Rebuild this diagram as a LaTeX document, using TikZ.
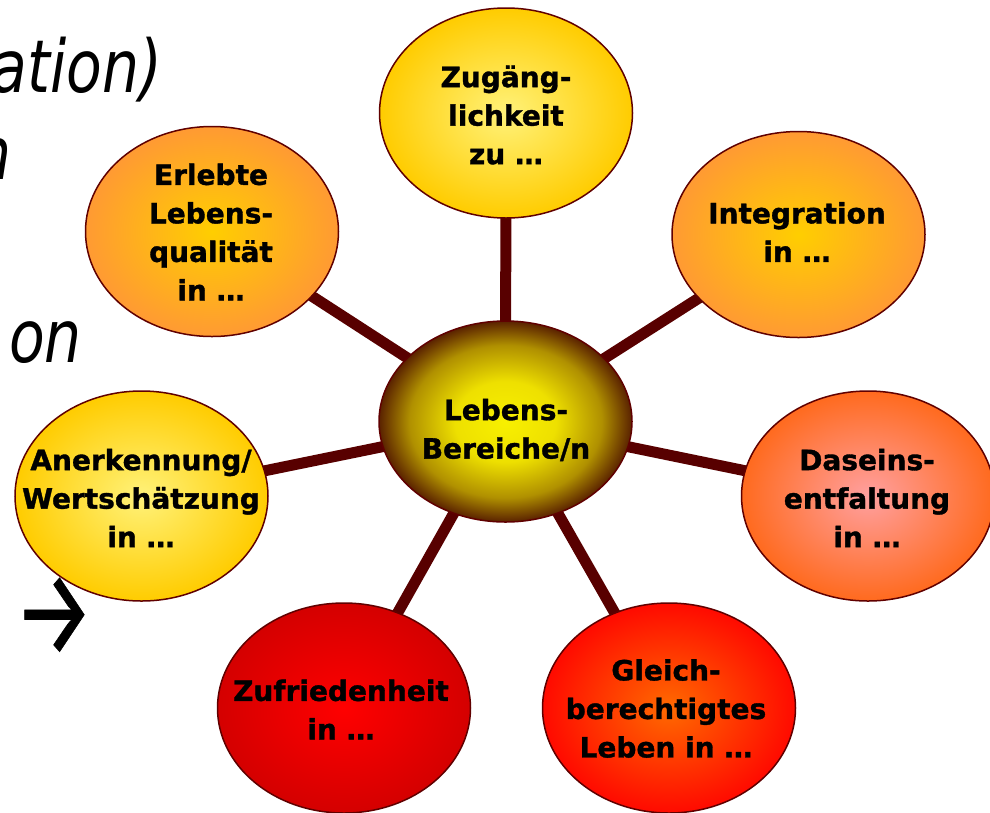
\documentclass[tikz,border=0pt]{standalone}
\usepackage{fontspec}
\setmainfont{DejaVu Sans}[BoldFeatures={FakeBold=1.2}]
\newfontfamily\slantfont{DejaVu Sans Oblique}[FakeStretch=0.8]
\newfontfamily\arrowfont{Fira Sans}[FakeBold=0.6]
\usetikzlibrary{shapes.geometric,backgrounds}
\definecolor{edgecol}{HTML}{600000}
\definecolor{spokecol}{HTML}{580000}
\definecolor{ylwIn}{HTML}{FFF27A}
\definecolor{ylwOut}{HTML}{FFCC00}
\definecolor{orgIn}{HTML}{FFCE00}
\definecolor{orgOut}{HTML}{FF9A33}
\definecolor{pnkIn}{HTML}{FFA0A0}
\definecolor{pnkOut}{HTML}{FF6A1E}
\definecolor{redoIn}{HTML}{FF6A00}
\definecolor{redoOut}{HTML}{FF0A00}
\definecolor{redIn}{HTML}{FF0000}
\definecolor{redOut}{HTML}{D40000}
\definecolor{hubA}{HTML}{F8F000}
\definecolor{hubB}{HTML}{EEE000}
\definecolor{hubC}{HTML}{B09000}
\definecolor{hubD}{HTML}{5A2200}
\pgfdeclareradialshading{hubshade}{\pgfpoint{0bp}{0bp}}{color(0bp)=(hubA); color(10bp)=(hubB); color(19bp)=(hubC); color(25bp)=(hubD); color(50bp)=(hubD)}
\begin{document}
\begin{tikzpicture}[x=1pt,y=-1pt,
  bubble/.style={ellipse, draw=edgecol, line width=1.5pt, minimum width=253pt, minimum height=210pt, inner sep=0pt, shading=radial},
  lbl/.style={font=\fontsize{28}{38.5}\selectfont\bfseries, align=center, text=black, inner sep=0pt},
  sl/.style={font=\slantfont\fontsize{73}{80}\selectfont, text=black, inner sep=0pt},
  spoke/.style={draw=spokecol, line width=11pt}]
\useasboundingbox (0,0) rectangle (990,812);
% left cut-off slide text
\node[sl, anchor=base east] (t1) at (162,92) {ation)};
\node[sl, anchor=base east] (t2) at (12,179) {n};
\node[sl, anchor=base east] (t3) at (82,362) {on};
\node[font=\arrowfont\fontsize{80}{88}\selectfont, inner sep=0pt] (t4) at (54,616) {\scalebox{1.12}[1.5]{→}};
% bubbles
\node[bubble, minimum height=201pt, shading=hubshade] (hub) at (505.5,421.5) {};
\node[bubble, inner color=ylwIn, outer color=ylwOut] (zug) at (506,113) {};
\node[bubble, minimum height=206pt, inner color=orgIn, outer color=orgOut] (integ) at (798.5,234.5) {};
\node[bubble, inner color=pnkIn, outer color=pnkOut] (dasein) at (868,496) {};
\node[bubble, inner color=redoIn, outer color=redoOut] (gleich) at (669,708) {};
\node[bubble, inner color=redIn, outer color=redOut] (zufr) at (344,708) {};
\node[bubble, inner color=ylwIn, outer color=ylwOut] (anerk) at (141.5,496) {};
\node[bubble, inner color=orgIn, outer color=orgOut] (erlebt) at (212,231.5) {};
% spokes
\begin{scope}[on background layer]
\foreach \n in {zug,integ,dasein,gleich,zufr,anerk,erlebt}
  \draw[spoke] (hub.center) -- (\n.center);
\end{scope}
% labels
\node[lbl] (hubT) at (506,430) {Lebens-\\Bereiche/n};
\node[lbl] (zugT) at (506,115) {Zugäng-\\lichkeit\\zu …};
\node[lbl] (integT) at (797,232) {Integration\\in …};
\node[lbl] (daseinT) at (867,498) {Daseins-\\entfaltung\\in …};
\node[lbl] (gleichT) at (666,708.5) {Gleich-\\berechtigtes\\Leben in …};
\node[lbl] (zufrT) at (341,709.5) {Zufriedenheit\\in …};
\node[lbl] (anerkT) at (141,498) {Anerkennung/\\Wertschätzung\\in …};
\node[lbl] (erlebtT) at (211,232) {Erlebte\\Lebens-\\qualität\\in …};
\end{tikzpicture}
\end{document}
